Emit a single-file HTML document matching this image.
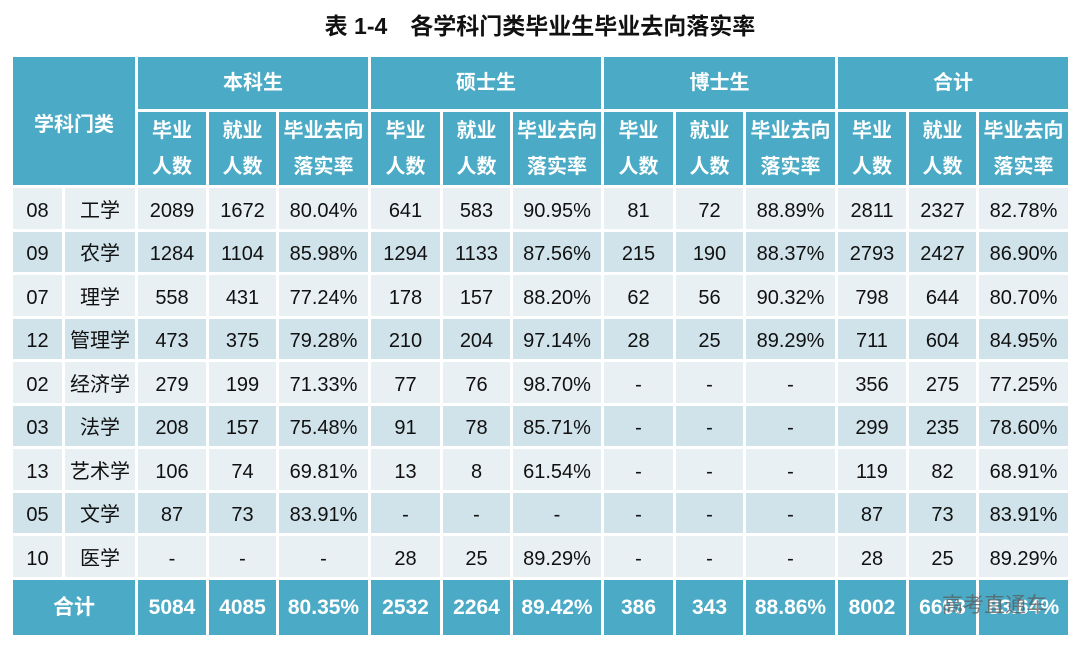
<!DOCTYPE html>
<html><head><meta charset="utf-8"><style>
body{margin:0;width:1080px;height:646px;background:#fff;font-family:"Liberation Sans","Noto Sans CJK SC",sans-serif;position:relative;overflow:hidden}
.t{position:absolute;top:12px;left:0;width:1080px;text-align:center;font-weight:bold;font-size:23px;line-height:28px;color:#111}
table{position:absolute;left:10px;top:54px;border-collapse:collapse;table-layout:fixed;width:1060px}
td{border:3px solid #fff;text-align:center;padding:0;font-size:20px;line-height:24px;color:#111;white-space:nowrap;overflow:hidden;vertical-align:middle}
.h td,td.h{background:#4BAAC5;color:#fff;font-weight:bold;font-size:20px}
.a td{background:#E8F0F4}.b td{background:#D0E2EA}
tr.d{height:43.5px}
tr.d td{padding-top:5px}
.tot td{background:#4BAAC5;color:#fff;font-weight:bold;font-size:21px;padding-top:2px}
.wm{position:absolute;left:942px;top:594px;font-size:21px;line-height:24px;color:rgba(90,90,90,.75)}
</style></head><body>
<div class="t">表 1-4　各学科门类毕业生毕业去向落实率</div>
<table>
<colgroup><col style="width:52px"><col style="width:73px"><col style="width:71px"><col style="width:70px"><col style="width:92px"><col style="width:72px"><col style="width:70px"><col style="width:91px"><col style="width:72px"><col style="width:70px"><col style="width:92px"><col style="width:71px"><col style="width:70px"><col style="width:92px"></colgroup>
<tr class="h" style="height:55px"><td colspan="2" rowspan="2" style="vertical-align:top;padding-top:56px">学科门类</td><td colspan="3">本科生</td><td colspan="3">硕士生</td><td colspan="3">博士生</td><td colspan="3">合计</td></tr>
<tr class="h" style="height:76px"><td style="line-height:36px">毕业<br>人数</td><td style="line-height:36px">就业<br>人数</td><td style="line-height:36px">毕业去向<br>落实率</td><td style="line-height:36px">毕业<br>人数</td><td style="line-height:36px">就业<br>人数</td><td style="line-height:36px">毕业去向<br>落实率</td><td style="line-height:36px">毕业<br>人数</td><td style="line-height:36px">就业<br>人数</td><td style="line-height:36px">毕业去向<br>落实率</td><td style="line-height:36px">毕业<br>人数</td><td style="line-height:36px">就业<br>人数</td><td style="line-height:36px">毕业去向<br>落实率</td></tr>
<tr class="d a"><td>08</td><td>工学</td><td>2089</td><td>1672</td><td>80.04%</td><td>641</td><td>583</td><td>90.95%</td><td>81</td><td>72</td><td>88.89%</td><td>2811</td><td>2327</td><td>82.78%</td></tr>
<tr class="d b"><td>09</td><td>农学</td><td>1284</td><td>1104</td><td>85.98%</td><td>1294</td><td>1133</td><td>87.56%</td><td>215</td><td>190</td><td>88.37%</td><td>2793</td><td>2427</td><td>86.90%</td></tr>
<tr class="d a"><td>07</td><td>理学</td><td>558</td><td>431</td><td>77.24%</td><td>178</td><td>157</td><td>88.20%</td><td>62</td><td>56</td><td>90.32%</td><td>798</td><td>644</td><td>80.70%</td></tr>
<tr class="d b"><td>12</td><td>管理学</td><td>473</td><td>375</td><td>79.28%</td><td>210</td><td>204</td><td>97.14%</td><td>28</td><td>25</td><td>89.29%</td><td>711</td><td>604</td><td>84.95%</td></tr>
<tr class="d a"><td>02</td><td>经济学</td><td>279</td><td>199</td><td>71.33%</td><td>77</td><td>76</td><td>98.70%</td><td>-</td><td>-</td><td>-</td><td>356</td><td>275</td><td>77.25%</td></tr>
<tr class="d b"><td>03</td><td>法学</td><td>208</td><td>157</td><td>75.48%</td><td>91</td><td>78</td><td>85.71%</td><td>-</td><td>-</td><td>-</td><td>299</td><td>235</td><td>78.60%</td></tr>
<tr class="d a"><td>13</td><td>艺术学</td><td>106</td><td>74</td><td>69.81%</td><td>13</td><td>8</td><td>61.54%</td><td>-</td><td>-</td><td>-</td><td>119</td><td>82</td><td>68.91%</td></tr>
<tr class="d b"><td>05</td><td>文学</td><td>87</td><td>73</td><td>83.91%</td><td>-</td><td>-</td><td>-</td><td>-</td><td>-</td><td>-</td><td>87</td><td>73</td><td>83.91%</td></tr>
<tr class="d a"><td>10</td><td>医学</td><td>-</td><td>-</td><td>-</td><td>28</td><td>25</td><td>89.29%</td><td>-</td><td>-</td><td>-</td><td>28</td><td>25</td><td>89.29%</td></tr>
<tr class="tot" style="height:58px"><td colspan="2">合计</td><td>5084</td><td>4085</td><td>80.35%</td><td>2532</td><td>2264</td><td>89.42%</td><td>386</td><td>343</td><td>88.86%</td><td>8002</td><td>6693</td><td>83.64%</td></tr>
</table>
<div class="wm">高考直通车</div>
</body></html>
